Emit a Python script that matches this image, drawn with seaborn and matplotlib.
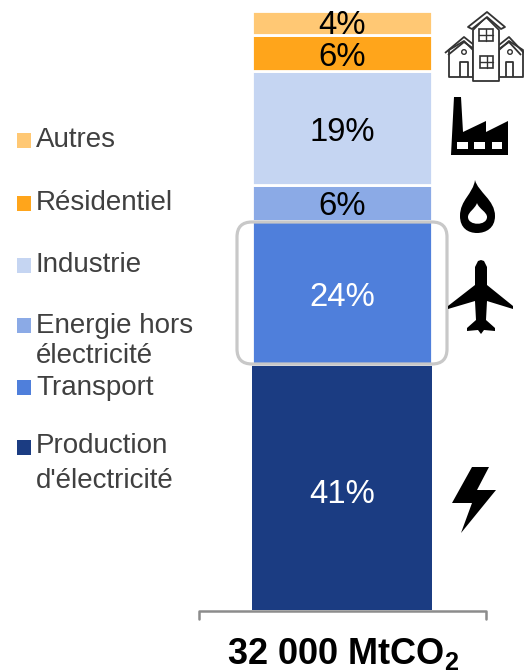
import matplotlib
matplotlib.use("Agg")
import matplotlib.pyplot as plt
from matplotlib.patches import FancyBboxPatch, Polygon, Rectangle, Circle, PathPatch
from matplotlib.path import Path
import pandas as pd
import seaborn as sns

sectors = ["Autres", "Résidentiel", "Industrie", "Energie hors électricité", "Transport", "Production d'électricité"]
shares = [4, 6, 19, 6, 24, 41]
colors = ["#FFC874", "#FFA51B", "#C5D5F2", "#8BAAE6", "#4F7FDB", "#1B3C82"]
text_colors = ["black", "black", "black", "black", "white", "white"]
legend_lines = [["Autres"], ["Résidentiel"], ["Industrie"], ["Energie hors", "électricité"], ["Transport"], ["Production", "d'électricité"]]
total_label = "32 000 MtCO"

W, H = 524, 672
sns.set_theme(style="white")
plt.rcParams["font.family"] = ["Liberation Sans", "DejaVu Sans"]
plt.rcParams["mathtext.fontset"] = "custom"
plt.rcParams["mathtext.bf"] = "Liberation Sans:bold"
plt.rcParams["mathtext.rm"] = "Liberation Sans"

fig = plt.figure(figsize=(W / 100, H / 100), dpi=100)

# Bar axes: the bar fills the axes
ax = fig.add_axes([252 / W, 1 - 610 / H, 180 / W, 599 / H])
df = pd.DataFrame({"bar": ["total"] * len(sectors), "sector": sectors, "share": shares})
sns.histplot(data=df, x="bar", weights="share", hue="sector", hue_order=sectors, palette=colors,
             multiple="stack", shrink=1, alpha=1, edgecolor="white", linewidth=2.0,
             legend=False, ax=ax)
ax.set_xlim(-0.5, 0.5)
ax.set_ylim(0, 100)
ax.axis("off")

# Segment labels sit at each stacked segment's midpoint, with a small pixel nudge
nudges = {"Autres": 0, "Résidentiel": 2, "Industrie": 2, "Energie hors électricité": 1,
          "Transport": 2, "Production d'électricité": 4}
patches = sorted(ax.patches, key=lambda p: -p.get_y())
for p, name, share, tc in zip(patches, sectors, shares, text_colors):
    p.set_clip_on(False)
    if name.startswith("Production"):
        p.set_linewidth(0)
    p.set_zorder(2 if not name.startswith("Production") else 1)
    ax.annotate(f"{share}%", (0, p.get_y() + p.get_height() / 2), xytext=(0, 1 - nudges[name]),
                textcoords="offset points", ha="center", va="center_baseline", fontsize=23.7,
                color=tc, zorder=5, annotation_clip=False)

# Overlay in pixel coordinates for legend, bracket, frame and icons
ov = fig.add_axes([0, 0, 1, 1], zorder=10)
ov.set_xlim(0, W)
ov.set_ylim(H, 0)
ov.axis("off")
ov.patch.set_alpha(0)

# Legend
square_y = [133, 196, 258, 318, 380, 440]
line_y = [[140], [203], [265], [326, 356], [388], [446, 481]]
for c, sy, lines, ys in zip(colors, square_y, legend_lines, line_y):
    ov.add_patch(Rectangle((17, sy), 14, 15, fc=c, ec="none"))
    for t, y in zip(lines, ys):
        ov.text(36, y, t, fontsize=20, color="#404040", ha="left", va="center")

# Highlight frame
ov.add_patch(FancyBboxPatch((252, 237), 180, 112, boxstyle="round,pad=15,rounding_size=15",
                            fc="none", ec="#C8C8C8", lw=2.3))

# Bracket and total
ov.plot([198.5, 198.5, 485.5, 485.5], [619, 611, 611, 619], color="#8C8C8C", lw=1.8,
        solid_joinstyle="round")
ov.text(343, 654, total_label + r"$_{\mathbf{2}}$", fontsize=26, fontweight="bold", color="black",
        ha="center", va="center")

# Icon: houses
ink = "#333333"
def outline(pts, closed=False, lw=1.3):
    ov.add_patch(Polygon(pts, closed=closed, fc="white" if closed else "none", ec=ink, lw=lw,
                         joinstyle="round"))
outline([(449, 50), (449, 77), (473, 77), (473, 50), (464, 41)], True)
outline([(523, 50), (523, 77), (499, 77), (499, 50), (509, 41)], True)
outline([(445, 53), (464, 37), (474, 45)])
outline([(448, 55), (464, 42), (474, 49)])
outline([(524, 53), (509, 37), (499, 45)])
outline([(521, 55), (509, 42), (499, 49)])
outline([(473, 30), (473, 81), (499, 81), (499, 30), (486, 17)], True)
outline([(468, 27), (487, 12), (505, 27), (501, 29), (487, 17), (472, 29)], True)
for x0, y0, w, h in [(479, 29, 14, 12), (480, 56, 13, 12)]:
    ov.add_patch(Rectangle((x0, y0), w, h, fc="white", ec=ink, lw=1.2))
    ov.plot([x0 + w / 2] * 2, [y0, y0 + h], color=ink, lw=1)
    ov.plot([x0, x0 + w], [y0 + h / 2] * 2, color=ink, lw=1)
for x0, x1 in [(460, 468), (506, 513)]:
    outline([(x0, 77), (x0, 62), (x1, 62), (x1, 77)])
for cx in (464, 510):
    ov.add_patch(Circle((cx, 52), 2.3, fc="white", ec=ink, lw=1))

# Icon: factory
ov.add_patch(Polygon([(451, 155), (454, 97), (461, 97), (463, 132), (486, 121), (486, 132),
                      (508, 121), (508, 155)], closed=True, fc="black", ec="none"))
for x0, x1 in [(457, 468), (474, 485), (492, 502)]:
    ov.add_patch(Rectangle((x0, 142), x1 - x0, 7, fc="white", ec="none"))

# Icon: flame
M, C4 = Path.MOVETO, Path.CURVE4
flame_v = [(475, 180), (478, 192), (495, 200), (495, 216), (495, 228), (486, 233), (477, 233),
           (468, 233), (460, 228), (460, 216), (460, 200), (473, 194), (475, 180)]
ov.add_patch(PathPatch(Path(flame_v, [M] + [C4] * 12), fc="black", ec="none"))
hole_v = [(477, 203), (479, 209), (487, 212), (487, 217), (487, 226), (468, 226),
          (468, 217), (468, 212), (475, 209), (477, 203)]
ov.add_patch(PathPatch(Path(hole_v, [M] + [C4] * 9), fc="white", ec="none"))

# Icon: plane
ov.add_patch(Polygon([(481, 260), (484, 261), (487, 267), (487, 285), (513, 306), (513, 309),
                      (487, 301), (486, 320), (495, 328), (495, 331), (484, 330), (481, 334),
                      (478, 330), (467, 331), (467, 328), (476, 320), (475, 301), (448, 309),
                      (448, 306), (475, 285), (475, 267), (478, 261)],
                     closed=True, fc="black", ec="none", joinstyle="round"))

# Icon: bolt
ov.add_patch(Polygon([(472, 467), (489, 467), (477, 490), (496, 490), (461, 533), (472, 503), (452, 503)],
                     closed=True, fc="black", ec="none"))

fig.savefig("out.png", dpi=100)
